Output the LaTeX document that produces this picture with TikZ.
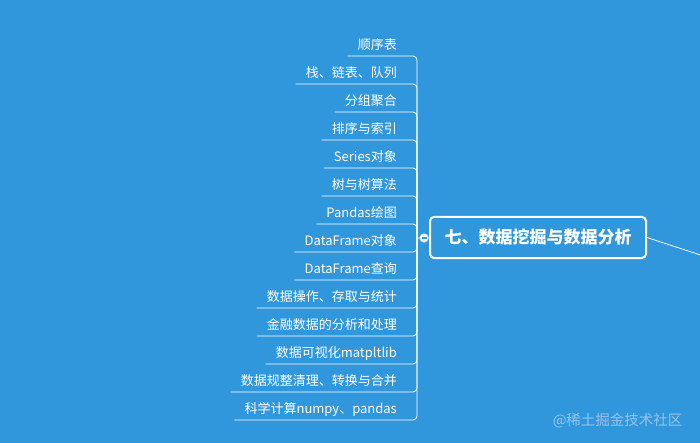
\documentclass[tikz,border=0pt]{standalone}
\usepackage{fontspec}
\setmainfont{Noto Sans CJK SC}
\usetikzlibrary{positioning}
\definecolor{mapblue}{RGB}{48,151,221}
\definecolor{marklight}{RGB}{150,196,232}
\tikzset{
    topic/.style={draw=white, line width=2pt, rounded corners=4pt, text=white,
        font=\fontsize{17}{19}\selectfont\bfseries, minimum width=216pt, minimum height=41pt, inner sep=0pt},
    item/.style={text=white, font=\fontsize{13}{15}\selectfont, inner xsep=10pt, inner ysep=2.5pt,
        text height=9.5pt, text depth=3.5pt, anchor=south east},
    branch/.style={draw=white, line width=0.8pt, rounded corners=4pt},
}
\begin{document}
\begin{tikzpicture}[x=1pt, y=-1pt]
            \fill [mapblue] (0,0) rectangle (700,443);
            \useasboundingbox (0,0) rectangle (700,443);
            \clip (0,0) rectangle (700,443);
            \node [topic] (main) at (538,237.5) {七、数据挖掘与数据分析};
            \coordinate (hub) at (417,238);
            \coordinate (up) at (740,268);
            \draw [branch] (main.east) -- (up);
            \node [item] (n1) at (407,56) {顺序表};
            \node [item] (n2) at (407,84) {栈、链表、队列};
            \node [item] (n3) at (407,112) {分组聚合};
            \node [item] (n4) at (407,140) {排序与索引};
            \node [item] (n5) at (407,168) {Series对象};
            \node [item] (n6) at (407,196) {树与树算法};
            \node [item] (n7) at (407,224) {Pandas绘图};
            \node [item] (n8) at (407,252) {DataFrame对象};
            \node [item] (n9) at (407,280) {DataFrame查询};
            \node [item] (n10) at (407,308) {数据操作、存取与统计};
            \node [item] (n11) at (407,336) {金融数据的分析和处理};
            \node [item] (n12) at (407,364) {数据可视化matpltlib};
            \node [item] (n13) at (407,392) {数据规整清理、转换与合并};
            \node [item] (n14) at (407,420) {科学计算numpy、pandas};
            \draw [branch] (hub) |- (n1.south west);
            \draw [branch] (hub) |- (n2.south west);
            \draw [branch] (hub) |- (n3.south west);
            \draw [branch] (hub) |- (n4.south west);
            \draw [branch] (hub) |- (n5.south west);
            \draw [branch] (hub) |- (n6.south west);
            \draw [branch] (hub) |- (n7.south west);
            \draw [branch] (hub) |- (n8.south west);
            \draw [branch] (hub) |- (n9.south west);
            \draw [branch] (hub) |- (n10.south west);
            \draw [branch] (hub) |- (n11.south west);
            \draw [branch] (hub) |- (n12.south west);
            \draw [branch] (hub) |- (n13.south west);
            \draw [branch] (hub) |- (n14.south west);
            \draw [branch] (main.west) -- (hub);
            % collapse mark
            \filldraw [fill=white, draw=marklight, line width=0.5pt] (424,238) circle [radius=4.5];
            \draw [mapblue, line width=1.2pt] (421.5,238) -- (426.5,238);
            \node [text=marklight, font=\fontsize{14.5}{16}\selectfont, anchor=east] (mark) at (686,421) {@稀土掘金技术社区};
        \end{tikzpicture}
\end{document}
